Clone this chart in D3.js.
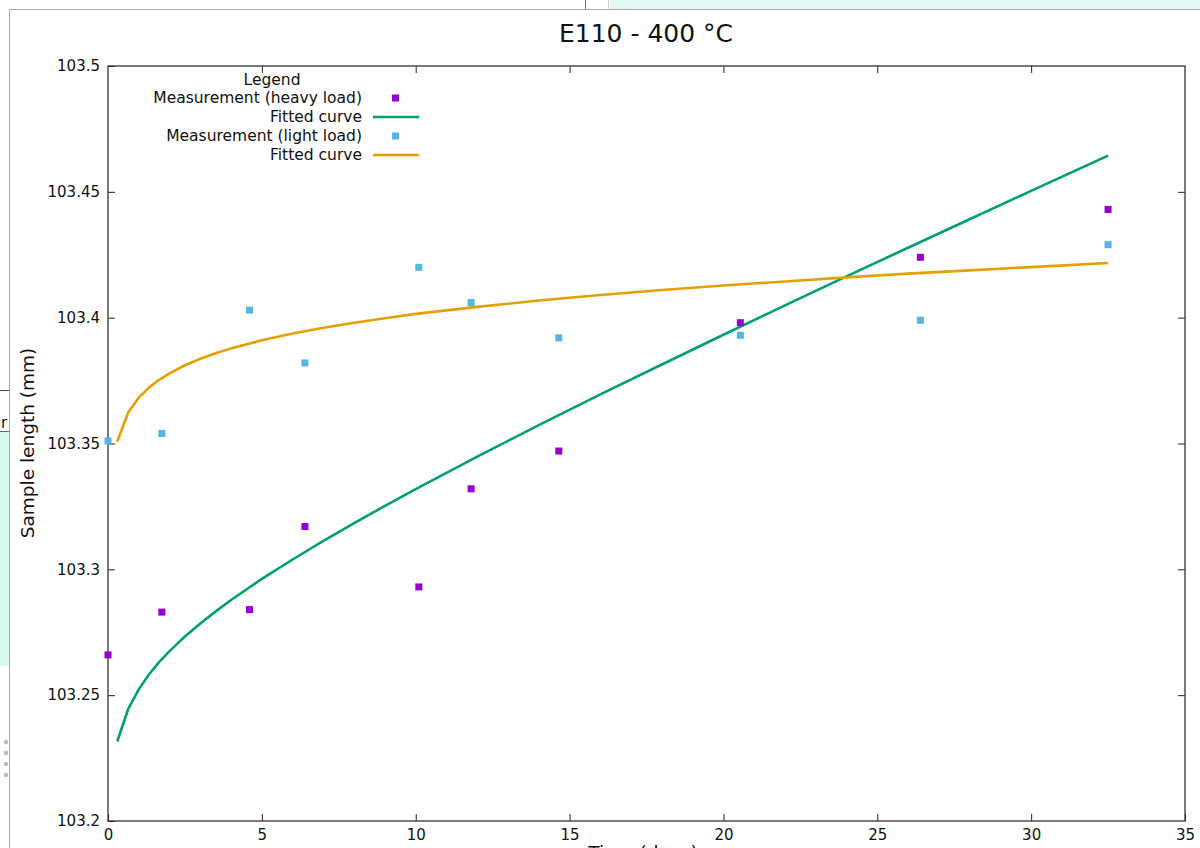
<!DOCTYPE html>
<html>
<head>
<meta charset="utf-8">
<script src="https://cdn.jsdelivr.net/npm/d3@7.9.0/dist/d3.min.js"></script>
<style>
  body { margin: 0; background: #fff; }
  svg { display: block; font-family: "DejaVu Sans", sans-serif; }
</style>
</head>
<body>
<svg id="chart" width="1200" height="848"></svg>
<script>
// measurement times (days)
const times = [0, 1.75, 4.6, 6.4, 10.1, 11.8, 14.65, 20.55, 26.4, 32.5];
const heavyLoad = [103.266, 103.283, 103.284, 103.317, 103.293, 103.332, 103.347, 103.398, 103.424, 103.443];
const lightLoad = [103.351, 103.354, 103.403, 103.382, 103.420, 103.406, 103.392, 103.393, 103.399, 103.429];

// fitted curves
const fitTimes = [0.3, 0.66, 1, 1.33, 1.66, 2, 2.5, 3, 3.5, 4, 5, 6, 7, 8, 9, 10, 12, 14, 16, 18, 20, 22, 24, 26, 28, 30, 32.5];
const heavyFit = [103.2316, 103.2446, 103.2523, 103.2582, 103.2631, 103.2675, 103.2733, 103.2785, 103.2833, 103.2878,
    103.2962, 103.3039, 103.3113, 103.3184, 103.3252, 103.3319, 103.3448, 103.3573, 103.3695, 103.3814,
    103.3932, 103.4049, 103.4164, 103.4278, 103.4391, 103.4504, 103.4644];
const lightFit = [103.3508, 103.3624, 103.3682, 103.3722, 103.3753, 103.3779, 103.3811, 103.3837, 103.3859, 103.3878,
    103.3910, 103.3937, 103.3960, 103.3980, 103.3998, 103.4015, 103.4043, 103.4068, 103.4090, 103.4110,
    103.4128, 103.4144, 103.4160, 103.4175, 103.4188, 103.4201, 103.4217];

const xTicks = [0, 5, 10, 15, 20, 25, 30, 35];
const yTicks = [103.2, 103.25, 103.3, 103.35, 103.4, 103.45, 103.5];

const colors = { heavy: '#9400d3', heavyFit: '#009e73', light: '#56b4e9', lightFit: '#e69f00' };

const svg = d3.select('#chart');

// bits of the window behind the plot
svg.append('rect').attr('x', 610).attr('y', 0).attr('width', 590).attr('height', 9).attr('fill', '#e4f6f1');
svg.append('line').attr('x1', 585.5).attr('x2', 585.5).attr('y1', 0).attr('y2', 9).attr('stroke', '#777');
svg.append('line').attr('x1', 608.5).attr('x2', 608.5).attr('y1', 0).attr('y2', 9).attr('stroke', '#ccc');
svg.append('rect').attr('x', 0).attr('y', 432).attr('width', 9).attr('height', 234).attr('fill', '#d6f7ee');
svg.append('line').attr('x1', 0).attr('x2', 9).attr('y1', 390.5).attr('y2', 390.5).attr('stroke', '#444');
svg.append('line').attr('x1', 0).attr('x2', 9).attr('y1', 431.5).attr('y2', 431.5).attr('stroke', '#666');
svg.append('text').attr('x', 1).attr('y', 428).attr('font-size', 15).attr('fill', '#111').text('r');
[742, 753, 764, 775].forEach(y => {
    svg.append('circle').attr('cx', 6).attr('cy', y).attr('r', 2.2).attr('fill', '#bbb');
});
svg.append('rect').attr('x', 9).attr('y', 9).attr('width', 1191).attr('height', 839).attr('fill', '#fff');
svg.append('path').attr('d', 'M9.5,848 V9.5 H1200').attr('fill', 'none').attr('stroke', '#aaa');

const margin = { left: 108, right: 1185, top: 66, bottom: 821 };

let x = d3.scaleLinear().domain([0, 35]).range([margin.left, margin.right]);
let y = d3.scaleLinear().domain([103.2, 103.5]).range([margin.bottom, margin.top]);

// axes, gnuplot style: ticks point inwards, mirrored on top and right
let g = svg.append('g');
let xAxis = d3.axisBottom(x).tickValues(xTicks).tickSize(-7).tickPadding(8).tickFormat(d3.format('d'));
let yAxis = d3.axisLeft(y).tickValues(yTicks).tickSize(-7).tickPadding(8).tickFormat(d => +d.toFixed(2));

g.append('g').attr('transform', `translate(0,${margin.bottom})`).call(xAxis);
g.append('g').attr('transform', `translate(${margin.left},0)`).call(yAxis);
g.append('g').attr('transform', `translate(0,${margin.top})`)
    .call(d3.axisTop(x).tickValues(xTicks.slice(1, -1)).tickSize(-7).tickFormat(''));
g.append('g').attr('transform', `translate(${margin.right},0)`)
    .call(d3.axisRight(y).tickValues(yTicks.slice(1, -1)).tickSize(-7).tickFormat(''));

g.selectAll('.domain').remove();
g.selectAll('.tick line').attr('stroke', '#222');
g.selectAll('.tick text').attr('font-size', 15).attr('fill', '#111').attr('font-family', '"DejaVu Sans", sans-serif');

svg.append('rect')
    .attr('x', margin.left).attr('y', margin.top)
    .attr('width', margin.right - margin.left).attr('height', margin.bottom - margin.top)
    .attr('fill', 'none').attr('stroke', '#333').attr('stroke-width', 1.3);

// titles
svg.append('text').attr('x', 646).attr('y', 42).attr('text-anchor', 'middle')
    .attr('font-size', 25).attr('fill', '#111').text('E110 - 400 °C');
svg.append('text').attr('transform', 'translate(34,443) rotate(-90)').attr('text-anchor', 'middle')
    .attr('font-size', 18.5).attr('fill', '#111').text('Sample length (mm)');
// x title sits mostly below the bottom edge, as in the screenshot
svg.append('text').attr('x', 643).attr('y', 859).attr('text-anchor', 'middle')
    .attr('font-size', 18.5).attr('fill', '#111').text('Time (days)');

// fitted curves
let line = d3.line().x(d => x(d[0])).y(d => y(d[1]));
[[heavyFit, colors.heavyFit], [lightFit, colors.lightFit]].forEach(([vals, c]) => {
    svg.append('path')
        .attr('d', line(fitTimes.map((t, i) => [t, vals[i]])))
        .attr('fill', 'none').attr('stroke', c).attr('stroke-width', 2.6)
        .attr('stroke-linejoin', 'round');
});

// measurement points
[[heavyLoad, colors.heavy], [lightLoad, colors.light]].forEach(([vals, c]) => {
    svg.append('g').selectAll('rect').data(times).join('rect')
        .attr('x', (d) => x(d) - 3.5)
        .attr('y', (d, i) => y(vals[i]) - 3.5)
        .attr('width', 7).attr('height', 7)
        .attr('fill', c);
});

// legend
let legend = svg.append('g').attr('font-size', 15.5).attr('fill', '#111');
legend.append('text').attr('x', 272).attr('y', 85).attr('text-anchor', 'middle').text('Legend');
const legendItems = [
    { label: 'Measurement (heavy load)', type: 'point', color: colors.heavy },
    { label: 'Fitted curve', type: 'line', color: colors.heavyFit },
    { label: 'Measurement (light load)', type: 'point', color: colors.light },
    { label: 'Fitted curve', type: 'line', color: colors.lightFit }
];
legendItems.forEach((d, i) => {
    let cy = 98 + i * 19;
    legend.append('text').attr('x', 362).attr('y', cy + 5).attr('text-anchor', 'end').text(d.label);
    if (d.type === 'point') {
        legend.append('rect').attr('x', 392).attr('y', cy - 3.5).attr('width', 7).attr('height', 7).attr('fill', d.color);
    } else {
        legend.append('line').attr('x1', 373).attr('x2', 419).attr('y1', cy).attr('y2', cy)
            .attr('stroke', d.color).attr('stroke-width', 2.6);
    }
});
</script>
</body>
</html>
